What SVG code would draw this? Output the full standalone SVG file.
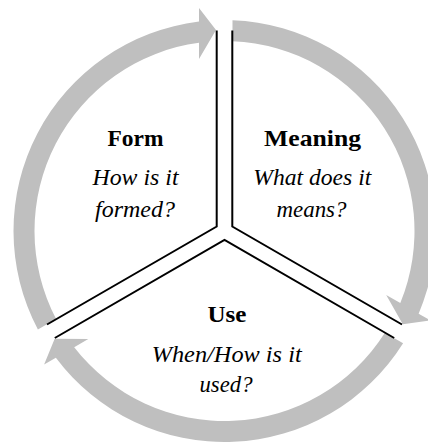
<svg xmlns="http://www.w3.org/2000/svg" width="428" height="443" viewBox="0 0 428 443">
<style>
.seg{fill:#bfbfbf;stroke:none}
.div{fill:none;stroke:#000;stroke-width:2;stroke-linejoin:miter}
.t{font-family:"Liberation Serif","Times New Roman",serif;font-size:23px;font-weight:bold;fill:#000;text-anchor:middle}
.s{font-family:"Liberation Serif","Times New Roman",serif;font-size:23px;font-style:italic;fill:#000;text-anchor:middle}
</style>
<defs>
<path id="arc" d="M 37.9 329.5 A 211 211 0 0 1 199 21.55 L 199 8 L 216 30 L 199 59 L 199 42.72 A 190 190 0 0 0 56.1 319 Z"/>
</defs>
<rect width="428" height="443" fill="#fff"/>
<g id="connectors">
<use href="#arc" class="seg"/>
<use href="#arc" class="seg" transform="rotate(120 224.5 231)"/>
<use href="#arc" class="seg" transform="rotate(240 224.5 231)"/>
<polyline class="div" points="216.7,30.5 216.7,226.5 47,324.5"/>
<polyline class="div" points="232.3,30.5 232.3,226.5 402,324.5"/>
<polyline class="div" points="54.8,338 224.5,240 394.2,338"/>
</g>
<g id="form">
<text class="t" x="135.5" y="146" textLength="56" lengthAdjust="spacingAndGlyphs">Form</text>
<text class="s" x="135.5" y="185" textLength="86" lengthAdjust="spacingAndGlyphs">How is it</text>
<text class="s" x="135" y="216.5" textLength="80" lengthAdjust="spacingAndGlyphs">formed?</text>
</g>
<g id="meaning">
<text class="t" x="312.5" y="146" textLength="97" lengthAdjust="spacingAndGlyphs">Meaning</text>
<text class="s" x="312.3" y="185" textLength="118" lengthAdjust="spacingAndGlyphs">What does it</text>
<text class="s" x="311.5" y="216.5" textLength="70" lengthAdjust="spacingAndGlyphs">means?</text>
</g>
<g id="use">
<text class="t" x="227" y="322" textLength="39" lengthAdjust="spacingAndGlyphs">Use</text>
<text class="s" x="226.7" y="361.5" textLength="150" lengthAdjust="spacingAndGlyphs">When/How is it</text>
<text class="s" x="226" y="392" textLength="53" lengthAdjust="spacingAndGlyphs">used?</text>
</g>
</svg>
